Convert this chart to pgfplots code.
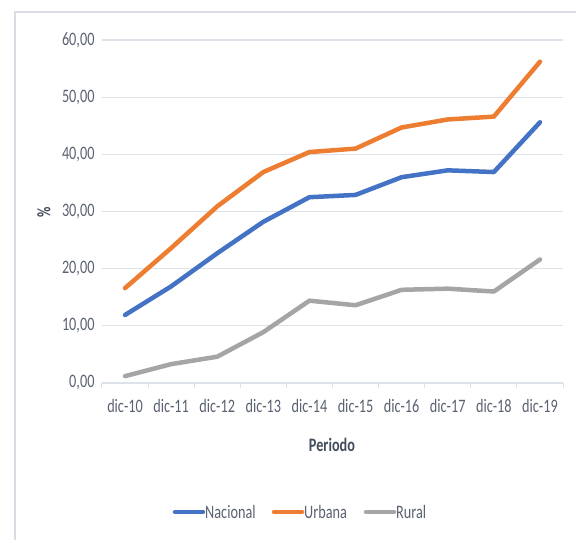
\documentclass[border=0pt]{standalone}
\usepackage{pgfplots}
\pgfplotsset{compat=1.18}
\usepackage{fontspec}
\setmainfont{Carlito}[FakeStretch=0.75]
\definecolor{cNac}{HTML}{4472C4}
\definecolor{cUrb}{HTML}{ED7D31}
\definecolor{cRur}{HTML}{A5A5A5}
\definecolor{cGrid}{HTML}{DDE1E8}
\definecolor{cTick}{HTML}{5A6170}
\definecolor{cLab}{HTML}{434C5C}
\definecolor{cBorder}{HTML}{D9DCE2}
\begin{document}
\begin{tikzpicture}[x=1pt,y=1pt]
\useasboundingbox (0,0) rectangle (576,540);
\draw[cBorder, line width=1.2pt] (15,0) -- (15,528) -- (576,528);
\begin{axis}[
  at={(102pt,157pt)}, anchor=south west,
  width=461pt, height=343pt, scale only axis,
  xmin=-0.5, xmax=9.5, ymin=0, ymax=60,
  xtick={0,...,9},
  xticklabels={dic-10,dic-11,dic-12,dic-13,dic-14,dic-15,dic-16,dic-17,dic-18,dic-19},
  minor xtick={-0.5,0.5,...,9.5},
  ytick={0,10,...,60},
  yticklabels={{0,00},{10,00},{20,00},{30,00},{40,00},{50,00},{60,00}},
  major tick length=0pt,
  minor tick length=5pt,
  tick align=outside,
  minor tick style={cGrid, line width=1pt},
  axis x line*=bottom,
  axis y line*=left,
  y axis line style={draw=none},
  x axis line style={cGrid, line width=1pt, -},
  ymajorgrids,
  grid style={cGrid, line width=1.2pt},
  tick label style={font=\fontsize{19}{22}\selectfont, text=cTick},
  /pgf/number format/assume math mode=true,
  xticklabel style={yshift=-13pt},
  yticklabel style={xshift=-4pt},
  clip=false,
]
\addplot[cRur, line width=4.5pt, line join=round, line cap=round] coordinates {
(0,1.2) (1,3.3) (2,4.6) (3,8.9) (4,14.4) (5,13.6) (6,16.3) (7,16.5) (8,16.0) (9,21.6)};
\addplot[cUrb, line width=4.5pt, line join=round, line cap=round] coordinates {
(0,16.6) (1,23.6) (2,30.9) (3,36.9) (4,40.4) (5,41.0) (6,44.7) (7,46.1) (8,46.6) (9,56.2)};
\addplot[cNac, line width=4.5pt, line join=round, line cap=round] coordinates {
(0,11.9) (1,16.9) (2,22.7) (3,28.2) (4,32.5) (5,32.9) (6,36.0) (7,37.2) (8,36.9) (9,45.6)};
\end{axis}
\node[text=cLab, font=\fontsize{19}{22}\selectfont\bfseries] at (332,95) {Periodo};
\node[text=cLab, font=\fontsize{19}{22}\selectfont\bfseries, rotate=90] at (44,328) {\%};
% legend
\begin{scope}[font=\fontsize{19}{22}\selectfont, text=cTick]
\draw[cNac, line width=4.5pt, line cap=round] (175,28) -- (203,28);
\node[anchor=west, inner sep=0pt, text=cTick] at (205,28) {Nacional};
\draw[cUrb, line width=4.5pt, line cap=round] (274,28) -- (302,28);
\node[anchor=west, inner sep=0pt, text=cTick] at (304,28) {Urbana};
\draw[cRur, line width=4.5pt, line cap=round] (366,28) -- (394,28);
\node[anchor=west, inner sep=0pt, text=cTick] at (396,28) {Rural};
\end{scope}
\end{tikzpicture}
\end{document}
